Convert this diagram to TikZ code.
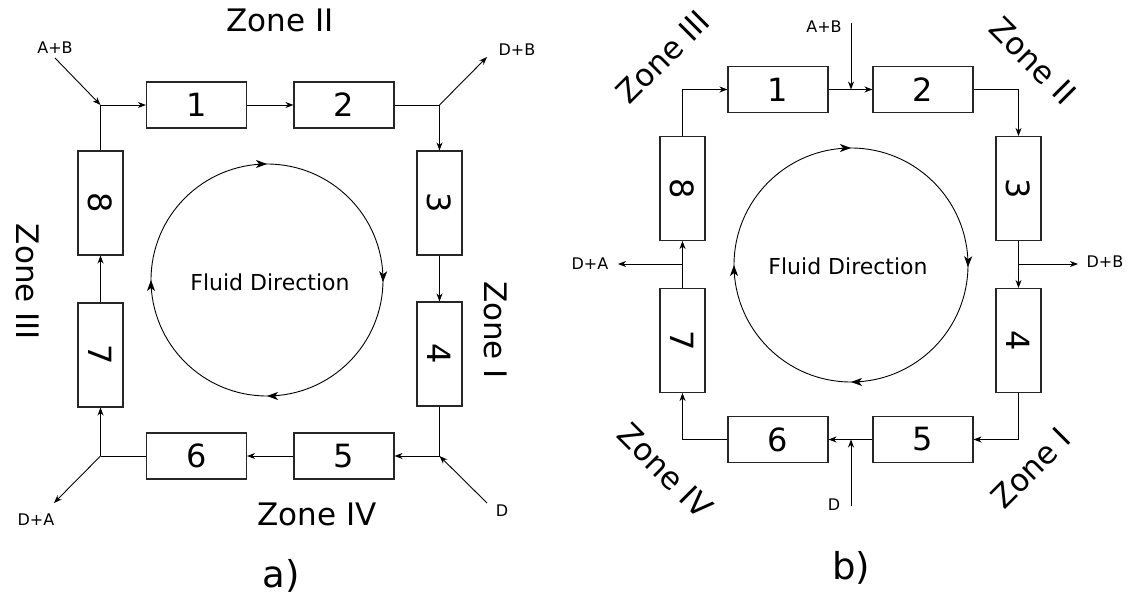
\documentclass[tikz,border=0pt]{standalone}
\usepackage{fontspec}
\setmainfont{DejaVu Sans}
\usetikzlibrary{arrows.meta,decorations.markings}
\begin{document}
\begin{tikzpicture}[x=1pt,y=-1pt,
  hbox/.style={draw=black!85,line width=1.1pt,minimum width=100pt,minimum height=46pt,inner sep=0pt,font=\fontsize{32}{36}\selectfont},
  vbox/.style={draw=black!85,line width=1.1pt,minimum width=45pt,minimum height=104pt,inner sep=0pt},
  vnum/.style={font=\fontsize{32}{36}\selectfont,rotate=-90,inner sep=0pt},
  zone/.style={font=\fontsize{31}{35}\selectfont,inner sep=0pt},
  small/.style={font=\fontsize{16}{19}\selectfont,inner sep=0pt},
  flow/.style={line width=0.9pt,-{Stealth[length=8pt,width=6pt,inset=2.5pt]}},
  plain/.style={line width=0.9pt},
  ring/.style={line width=0.9pt,postaction=decorate,decoration={markings,
     mark=at position 0.003 with {\arrow{Stealth[length=11pt,width=8pt,inset=3pt]}},
     mark=at position 0.25 with {\arrow{Stealth[length=11pt,width=8pt,inset=3pt]}},
     mark=at position 0.5 with {\arrow{Stealth[length=11pt,width=8pt,inset=3pt]}},
     mark=at position 0.75 with {\arrow{Stealth[length=11pt,width=8pt,inset=3pt]}}}}
]
\useasboundingbox (0,0) rectangle (1132,599);

% ---------------- a) ----------------
\node[hbox] (a1) at (196.5,105) {1};
\node[hbox] (a2) at (344,105) {2};
\node[vbox] (a3) at (439.5,203) {}; \node[vnum] (a3t) at (a3) {3};
\node[vbox] (a4) at (439.5,354) {}; \node[vnum] (a4t) at (a4) {4};
\node[hbox] (a5) at (344,456) {5};
\node[hbox] (a6) at (196.5,456) {6};
\node[vbox] (a7) at (100.5,355) {}; \node[vnum] (a7t) at (a7) {7};
\node[vbox] (a8) at (100.5,203) {}; \node[vnum] (a8t) at (a8) {8};

\coordinate (aj1) at (100.5,105);
\coordinate (aj2) at (439.5,105);
\coordinate (aj3) at (439.5,456);
\coordinate (aj4) at (100.5,456);
\coordinate (aAB) at (55,58);
\coordinate (aDB) at (487,57);
\coordinate (aD) at (487,503);
\coordinate (aDA) at (54,503);

\node[small] (laAB) at (55,48) {A+B};
\node[small] (laDB) at (517,50) {D+B};
\node[small] (laD) at (502,511) {D};
\node[small] (laDA) at (36,520) {D+A};

\draw[flow] (aAB) -- (aj1);
\draw[plain] (a8.north) -- (aj1);
\draw[flow] (aj1) -- (a1.west);
\draw[flow] (a1) -- (a2);
\draw[plain] (a2.east) -- (aj2);
\draw[flow] (aj2) -- (a3.north);
\draw[flow] (aj2) -- (aDB);
\draw[flow] (a3) -- (a4);
\draw[plain] (a4.south) -- (aj3);
\draw[flow] (aj3) -- (a5.east);
\draw[flow] (aD) -- (aj3);
\draw[flow] (a5) -- (a6);
\draw[plain] (a6.west) -- (aj4);
\draw[flow] (aj4) -- (a7.south);
\draw[flow] (aj4) -- (aDA);
\draw[flow] (a7) -- (a8);

\draw[ring] (267,280) circle (116);
\node[font=\fontsize{22}{26}\selectfont] (afd) at (270,282) {Fluid Direction};

\node[zone] (az2) at (280,20) {Zone II};
\node[zone,rotate=-90] (az1) at (496,330) {Zone I};
\node[zone,rotate=-90] (az3) at (28,282) {Zone III};
\node[zone] (az4) at (317,514) {Zone IV};
\node[font=\fontsize{37}{42}\selectfont] (alab) at (281,576) {a)};

% ---------------- b) ----------------
\node[hbox] (b1) at (778,89.5) {1};
\node[hbox] (b2) at (923,89.5) {2};
\node[vbox] (b3) at (1018.5,188.5) {}; \node[vnum] (b3t) at (b3) {3};
\node[vbox] (b4) at (1018.5,340.5) {}; \node[vnum] (b4t) at (b4) {4};
\node[hbox] (b5) at (923,439.5) {5};
\node[hbox] (b6) at (778,439.5) {6};
\node[vbox] (b7) at (682.5,340.5) {}; \node[vnum] (b7t) at (b7) {7};
\node[vbox] (b8) at (682.5,188.5) {}; \node[vnum] (b8t) at (b8) {8};

\coordinate (bj1) at (851,89.5);
\coordinate (bj2) at (1018.5,264);
\coordinate (bj3) at (851,439.5);
\coordinate (bj4) at (682.5,264);
\coordinate (bAB) at (851,23);
\coordinate (bDB) at (1078,264);
\coordinate (bD) at (851,506);
\coordinate (bDA) at (618,264);

\node[small] (lbAB) at (824,27) {A+B};
\node[small] (lbDB) at (1105,262) {D+B};
\node[small] (lbD) at (834,505) {D};
\node[small] (lbDA) at (590,264) {D+A};

\draw[flow] (b1) -- (b2);
\draw[flow] (bAB) -- (bj1);
\draw[flow] (b2.east) -| (b3.north);
\draw[flow] (b3) -- (b4);
\draw[flow] (bj2) -- (bDB);
\draw[flow] (b4.south) |- (b5.east);
\draw[flow] (b5) -- (b6);
\draw[flow] (bD) -- (bj3);
\draw[flow] (b6.west) -| (b7.south);
\draw[flow] (b7) -- (b8);
\draw[flow] (bj4) -- (bDA);
\draw[flow] (b8.north) |- (b1.west);

\draw[ring] (851,265) circle (117);
\node[font=\fontsize{22}{26}\selectfont] (bfd) at (848,266) {Fluid Direction};

\node[zone,rotate=45] (bz3) at (663,57) {Zone III};
\node[zone,rotate=-45] (bz2) at (1033,61) {Zone II};
\node[zone,rotate=-45] (bz4) at (665,471) {Zone IV};
\node[zone,rotate=45] (bz1) at (1031,468) {Zone I};
\node[font=\fontsize{37}{42}\selectfont] (blab) at (851,568) {b)};
\end{tikzpicture}
\end{document}
